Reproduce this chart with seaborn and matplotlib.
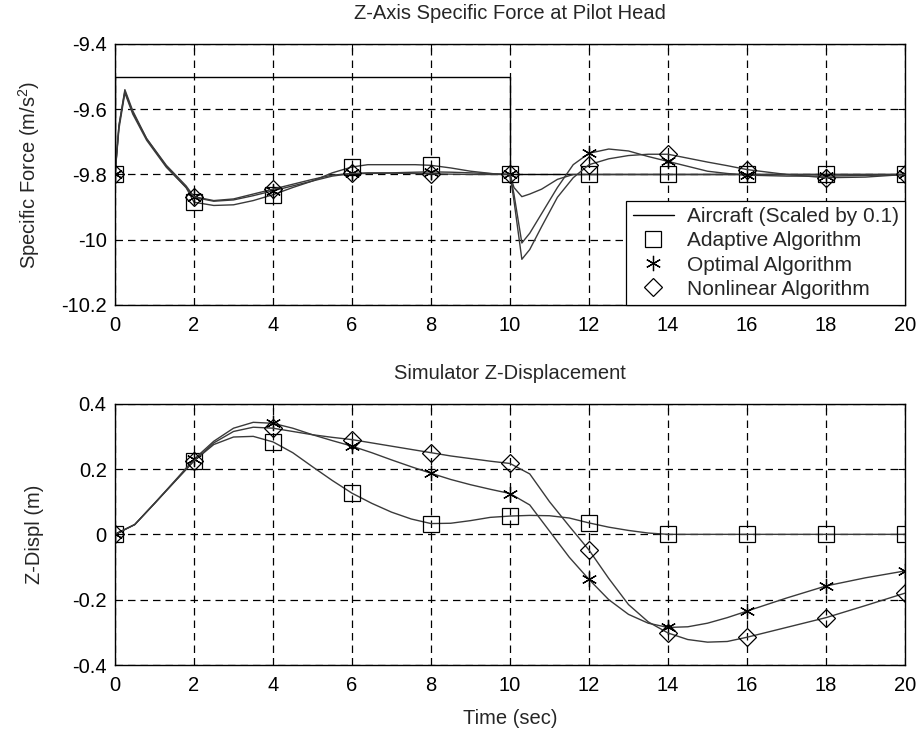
import numpy as np
import pandas as pd
import seaborn as sns
import matplotlib
matplotlib.use("Agg")
import matplotlib.pyplot as plt
from matplotlib.ticker import FuncFormatter

# ---- top panel: specific force (m/s^2) ----
t_top = [0, 0.1, 0.25, 0.45, 0.8, 1.3, 1.8, 2, 2.5, 3, 3.5, 4, 4.5, 5, 5.5, 6,
         6.4, 7, 7.6, 8, 8.5, 9, 9.6, 10, 10.1, 10.3, 10.5, 10.8, 11.2, 11.6,
         12, 12.5, 13, 13.5, 14, 14.5, 15, 15.5, 16, 17, 18, 19, 20]

force_adaptive = [-9.80, -9.65, -9.545, -9.61, -9.69, -9.775, -9.84, -9.885,
                  -9.895, -9.893, -9.88, -9.862, -9.84, -9.82, -9.795, -9.777,
                  -9.77, -9.77, -9.77, -9.772, -9.78, -9.79, -9.798, -9.80,
                  -9.84, -9.868, -9.86, -9.845, -9.815, -9.80,
                  -9.80, -9.80, -9.80, -9.80, -9.80, -9.80, -9.80, -9.80, -9.80,
                  -9.80, -9.80, -9.80, -9.80]

force_optimal = [-9.80, -9.66, -9.55, -9.615, -9.695, -9.778, -9.84, -9.87,
                 -9.882, -9.878, -9.865, -9.85, -9.835, -9.82, -9.805, -9.797,
                 -9.795, -9.795, -9.793, -9.792, -9.793, -9.795, -9.798, -9.80,
                 -9.86, -10.01, -9.98, -9.92, -9.84, -9.77,
                 -9.735, -9.722, -9.728, -9.745, -9.76, -9.775, -9.79, -9.797,
                 -9.802, -9.805, -9.805, -9.803, -9.80]

force_nonlinear = [-9.80, -9.65, -9.54, -9.605, -9.69, -9.772, -9.835, -9.868,
                   -9.88, -9.875, -9.86, -9.845, -9.83, -9.815, -9.802, -9.797,
                   -9.797, -9.796, -9.797, -9.798, -9.799, -9.80, -9.80, -9.80,
                   -9.88, -10.06, -10.03, -9.96, -9.87, -9.81,
                   -9.77, -9.752, -9.742, -9.738, -9.738, -9.75, -9.762, -9.773,
                   -9.785, -9.80, -9.81, -9.808, -9.80]

t_aircraft = [0, 0, 10, 10, 20]
force_aircraft = [-9.8, -9.5, -9.5, -9.8, -9.8]

# ---- bottom panel: simulator displacement (m) ----
t_bot = [0, 0.5, 1, 1.5, 2, 2.5, 3, 3.5, 4, 4.5, 5, 5.5, 6, 6.5, 7, 7.5, 8,
         8.5, 9, 9.5, 10, 10.5, 11, 11.5, 12, 12.5, 13, 13.5, 14, 14.5, 15,
         15.5, 16, 17, 18, 19, 20]

displ_adaptive = [0, 0.03, 0.095, 0.16, 0.225, 0.275, 0.298, 0.30, 0.283,
                  0.25, 0.207, 0.165, 0.126, 0.095, 0.068, 0.047, 0.033, 0.034,
                  0.042, 0.052, 0.056, 0.058, 0.057, 0.05, 0.035, 0.022, 0.012,
                  0.004, 0, 0, 0, 0, 0, 0, 0, 0, 0]

displ_optimal = [0, 0.03, 0.095, 0.162, 0.23, 0.285, 0.325, 0.343, 0.34,
                 0.325, 0.305, 0.287, 0.27, 0.25, 0.228, 0.207, 0.187, 0.168,
                 0.152, 0.138, 0.125, 0.09, 0.01, -0.07, -0.138, -0.2, -0.245,
                 -0.272, -0.285, -0.283, -0.272, -0.255, -0.235, -0.195, -0.158,
                 -0.133, -0.112]

displ_nonlinear = [0, 0.03, 0.094, 0.16, 0.225, 0.28, 0.315, 0.328, 0.325,
                   0.315, 0.305, 0.297, 0.29, 0.28, 0.27, 0.26, 0.25, 0.24,
                   0.232, 0.224, 0.217, 0.185, 0.1, 0.025, -0.048, -0.135, -0.215,
                   -0.268, -0.302, -0.322, -0.33, -0.328, -0.315, -0.285, -0.255,
                   -0.218, -0.18]

labels = ["Aircraft (Scaled by 0.1)", "Adaptive Algorithm",
          "Optimal Algorithm", "Nonlinear Algorithm"]
x_ticks = list(range(0, 21, 2))

sns.set_theme(style="white")
plt.rcParams["font.family"] = ["Liberation Sans", "DejaVu Sans"]
plt.rcParams["axes.unicode_minus"] = False
plt.rcParams["mathtext.fontset"] = "custom"
plt.rcParams["mathtext.rm"] = "Liberation Sans"
plt.rcParams["mathtext.it"] = "Liberation Sans"

FS = 14.5
LINE = "#3a3a3a"
markers = {"Adaptive": "s", "Optimal": (6, 2, 0), "Nonlinear": "D"}
msize = {"Adaptive": 11, "Optimal": 11, "Nonlinear": 9.5}

fig = plt.figure(figsize=(9.23, 7.34), dpi=100)
ax1 = fig.add_axes([0.1246, 0.5845, 0.8559, 0.3556])
ax2 = fig.add_axes([0.1246, 0.0940, 0.8559, 0.3560])


def draw_panel(ax, t, series):
    handles = []
    for name, vals in series:
        df = pd.DataFrame({"t": t, "v": vals})
        sns.lineplot(data=df, x="t", y="v", ax=ax, color=LINE, lw=1.0,
                     estimator=None, sort=False, legend=False)
        even = df[df["t"].isin(x_ticks)]
        h, = ax.plot(even["t"], even["v"], ls="none", marker=markers[name],
                     ms=msize[name], mfc="none", mec="black", mew=0.9)
        handles.append(h)
    return handles


def style_axes(ax, ylim, yticks):
    ax.set_xlim(0, 20)
    ax.set_ylim(*ylim)
    ax.set_xticks(x_ticks)
    ax.set_yticks(yticks)
    fmt = FuncFormatter(lambda v, p: "%g" % round(v, 4))
    ax.xaxis.set_major_formatter(fmt)
    ax.yaxis.set_major_formatter(fmt)
    ax.grid(True, color="black", ls=(0, (6, 4)), lw=0.9)
    ax.tick_params(direction="in", length=5, width=0.8, labelsize=FS,
                   top=True, right=True, pad=6, colors="black")
    ax.tick_params(axis="x", pad=8)
    for s in ax.spines.values():
        s.set_color("black")
        s.set_linewidth(1.0)
    ax.set_xlabel("")


# top panel
air = pd.DataFrame({"t": t_aircraft, "v": force_aircraft})
sns.lineplot(data=air, x="t", y="v", ax=ax1, color="black", lw=1.0,
             estimator=None, sort=False, legend=False)
air_handle = plt.Line2D([], [], color="black", lw=1.0)
h_top = draw_panel(ax1, t_top, [("Adaptive", force_adaptive),
                                ("Optimal", force_optimal),
                                ("Nonlinear", force_nonlinear)])
style_axes(ax1, (-10.2, -9.4), [-10.2, -10.0, -9.8, -9.6, -9.4])
ax1.set_title("Z-Axis Specific Force at Pilot Head", fontsize=FS, pad=18)
ax1.set_ylabel("Specific Force (m/s$^2$)", fontsize=FS)
ax1.yaxis.set_label_coords(-0.092, 0.5)
leg = ax1.legend([air_handle] + h_top, labels, loc="lower right",
                 borderaxespad=0, fontsize=15, fancybox=False, framealpha=1,
                 edgecolor="black", handlelength=2.0, labelspacing=0.25,
                 borderpad=0.3, handletextpad=0.6)
leg.get_frame().set_linewidth(0.9)

# bottom panel
draw_panel(ax2, t_bot, [("Adaptive", displ_adaptive),
                        ("Optimal", displ_optimal),
                        ("Nonlinear", displ_nonlinear)])
style_axes(ax2, (-0.4, 0.4), [-0.4, -0.2, 0, 0.2, 0.4])
ax2.set_title("Simulator Z-Displacement", fontsize=FS, pad=18)
ax2.set_ylabel("Z-Displ (m)", fontsize=FS)
ax2.yaxis.set_label_coords(-0.090, 0.5)
ax2.set_xlabel("Time (sec)", fontsize=FS, labelpad=10)

fig.savefig("out.png", dpi=100, facecolor="white")
